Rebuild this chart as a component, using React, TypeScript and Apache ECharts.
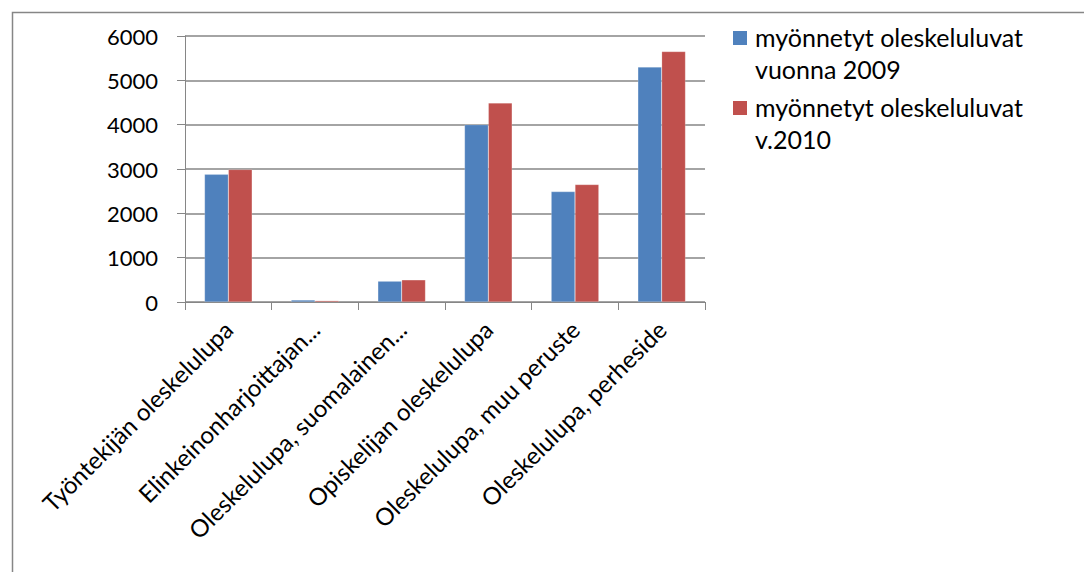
import React, { useEffect, useRef } from "react";
import * as echarts from "echarts";

const categories = [
  "Työntekijän oleskelulupa",
  "Elinkeinonharjoittajan...",
  "Oleskelulupa, suomalainen...",
  "Opiskelijan oleskelulupa",
  "Oleskelulupa, muu peruste",
  "Oleskelulupa, perheside",
];
const series2009 = [2880, 45, 470, 4000, 2490, 5300];
const series2010 = [2990, 30, 500, 4490, 2650, 5650];
const seriesNames = ["myönnetyt oleskeluluvat vuonna 2009", "myönnetyt oleskeluluvat v.2010"];
const legendLines = [
  ["myönnetyt oleskeluluvat", "vuonna 2009"],
  ["myönnetyt oleskeluluvat", "v.2010"],
];
const colors = ["#4F81BD", "#C0504D"];

const FONT = "Lato";

export default function App() {
  const ref = useRef<HTMLDivElement>(null);
  useEffect(() => {
    if (!ref.current) return;
    const chart = echarts.init(ref.current, null, { renderer: "svg" });
    const legendGraphics: any[] = [];
    legendLines.forEach((lines, i) => {
      legendGraphics.push({
        type: "rect",
        left: 733,
        top: 31 + i * 70,
        shape: { width: 14, height: 14 },
        style: { fill: colors[i] },
      });
      legendGraphics.push({
        type: "text",
        left: 755,
        top: 21 + i * 70,
        style: {
          text: lines.join("\n"),
          font: `25px ${FONT}`,
          lineHeight: 32,
          fill: "#000",
        },
      });
    });
    chart.setOption({
      animation: false,
      backgroundColor: "#fff",
      textStyle: { fontFamily: FONT },
      grid: { left: 185, right: 379, top: 36, bottom: 270, containLabel: false },
      xAxis: {
        type: "category",
        data: categories,
        axisLine: { lineStyle: { color: "#868686", width: 1 } },
        axisTick: { show: true, length: 8, lineStyle: { color: "#868686" } },
        axisLabel: {
          rotate: 45,
          interval: 0,
          margin: 23,
          fontSize: 24,
          fontFamily: FONT,
          color: "#000",
        },
      },
      yAxis: {
        type: "value",
        min: 0,
        max: 6000,
        interval: 1000,
        axisLine: { show: true, lineStyle: { color: "#868686" } },
        axisTick: { show: true, length: 8, lineStyle: { color: "#868686" } },
        splitLine: { show: true, lineStyle: { color: "#868686", width: 1.5 } },
        axisLabel: {
          margin: 27,
          fontSize: 22,
          fontFamily: FONT,
          color: "#000",
          formatter: (v: number) => String(v),
        },
      },
      series: [
        {
          name: seriesNames[0],
          type: "bar",
          data: series2009,
          barGap: "0%",
          barCategoryGap: "45%",
          itemStyle: { color: colors[0], borderColor: "rgba(255,255,255,0.4)", borderWidth: 0.5 },
        },
        {
          name: seriesNames[1],
          type: "bar",
          data: series2010,
          itemStyle: { color: colors[1], borderColor: "rgba(255,255,255,0.4)", borderWidth: 0.5 },
        },
      ],
      graphic: [
        {
          type: "rect",
          left: 10,
          top: 10,
          silent: true,
          shape: { width: 1200, height: 700 },
          style: { fill: "none", stroke: "#868686", lineWidth: 1.5 },
        },
        ...legendGraphics,
      ],
    });
    return () => chart.dispose();
  }, []);
  return (
    <div
      ref={ref}
      style={{ position: "absolute", left: 0, top: 0, width: 1084, height: 572 }}
    />
  );
}
